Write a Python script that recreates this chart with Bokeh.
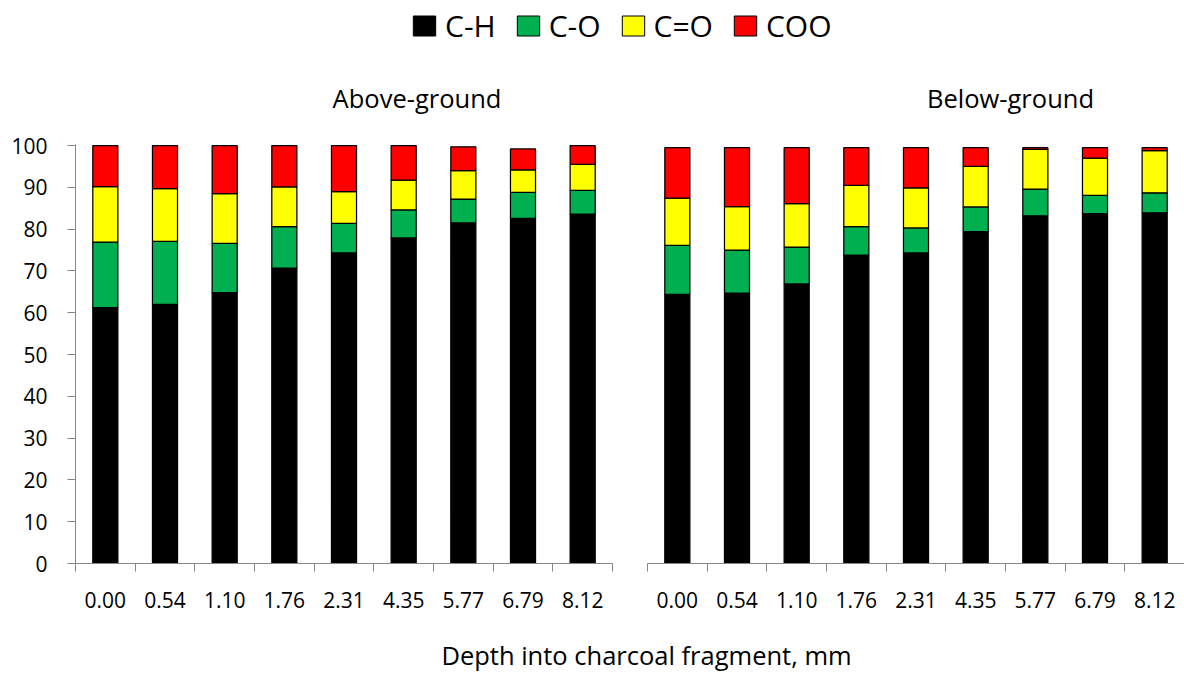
from bokeh.plotting import figure
from bokeh.models import (ColumnDataSource, Range1d, FixedTicker, Legend,
                          LegendItem)
from bokeh.layouts import column, row
from bokeh.embed import file_html
from bokeh.resources import INLINE
from bokeh.core.properties import value

# ---------------- data ----------------
depths = ["0.00", "0.54", "1.10", "1.76", "2.31", "4.35", "5.77", "6.79", "8.12"]
components = ["C-H", "C-O", "C=O", "COO"]
colors = ["#000000", "#00B050", "#FFFF00", "#FF0000"]

above_ch = [61.2, 62.0, 64.8, 70.7, 74.3, 77.9, 81.5, 82.6, 83.6]
above_co = [15.7, 15.1, 11.8, 9.9, 7.1, 6.7, 5.7, 6.2, 5.7]
above_cdo = [13.3, 12.6, 11.9, 9.5, 7.6, 7.1, 6.8, 5.4, 6.2]
above_coo = [9.8, 10.3, 11.5, 9.9, 11.0, 8.3, 5.7, 5.0, 4.5]

below_ch = [64.4, 64.7, 66.9, 73.8, 74.3, 79.4, 83.2, 83.7, 83.9]
below_co = [11.7, 10.3, 8.8, 6.8, 6.0, 5.9, 6.4, 4.4, 4.8]
below_cdo = [11.3, 10.4, 10.4, 9.9, 9.6, 9.7, 9.5, 8.9, 10.1]
below_coo = [12.1, 14.1, 13.4, 9.0, 9.6, 4.5, 0.4, 2.5, 0.7]

panel_titles = ["Above-ground", "Below-ground"]
y_ticks = list(range(0, 101, 10))
x_label = "Depth into charcoal fragment, mm"

FONT = "Open Sans"
GRAY = "#868686"


def panel(ch, co, cdo, coo, show_y, frame_w, b_left, b_right):
    n = len(depths)
    slot = list(range(n))  # category slot index of each depth
    src = ColumnDataSource(dict(slot=slot, ch=ch, co=co, cdo=cdo, coo=coo))
    p = figure(x_range=Range1d(-0.5, n - 0.5), y_range=Range1d(0, 100.25),
               frame_width=frame_w, frame_height=419,
               min_border_left=b_left, min_border_right=b_right,
               min_border_top=24, min_border_bottom=57,
               y_axis_location="left" if show_y else None,
               output_backend="svg", toolbar_location=None)
    p.outline_line_color = None
    p.grid.visible = False
    p.background_fill_color = "white"
    p.border_fill_color = "white"

    p.vbar_stack(["ch", "co", "cdo", "coo"], x="slot", width=0.42,
                 fill_color=colors, line_color="black", line_width=1.25,
                 source=src)

    # x axis: labels at category centres, tick marks between categories
    xa = p.xaxis[0]
    xa.ticker = FixedTicker(ticks=slot,
                            minor_ticks=[i - 0.5 for i in range(n + 1)])
    xa.major_label_overrides = {i: d for i, d in zip(slot, depths)}
    xa.axis_line_color = GRAY
    xa.major_tick_line_color = None
    xa.major_tick_out = 0
    xa.major_tick_in = 0
    xa.minor_tick_line_color = GRAY
    xa.minor_tick_out = 8
    xa.minor_tick_in = 0
    xa.major_label_text_font = FONT
    xa.major_label_text_font_size = "21px"
    xa.major_label_text_color = "black"
    xa.major_label_standoff = 20

    if show_y:
        ya = p.yaxis[0]
        ya.ticker = FixedTicker(ticks=y_ticks)
        ya.axis_line_color = GRAY
        ya.major_tick_line_color = GRAY
        ya.major_tick_out = 8
        ya.major_tick_in = 0
        ya.minor_tick_line_color = None
        ya.major_label_text_font = FONT
        ya.major_label_text_font_size = "21px"
        ya.major_label_text_color = "black"
        ya.major_label_standoff = 20
    return p


left = panel(above_ch, above_co, above_cdo, above_coo, True, 537, 75, 17)
right = panel(below_ch, below_co, below_cdo, below_coo, False, 537, 18, 0)

# ---------------- header strip: legend + panel titles ----------------
HEAD_H = 120
hf = figure(width=1184, height=HEAD_H, x_range=Range1d(0, 1184),
            y_range=Range1d(0, HEAD_H), min_border=0,
            x_axis_location=None, y_axis_location=None,
            output_backend="svg", toolbar_location=None)
hf.outline_line_color = None
hf.grid.visible = False
items = []
for name, c in zip(components, colors):
    # placeholder bar outside the visible range: only its legend swatch shows
    r = hf.vbar(x=[-100], top=[0], width=1, fill_color=c, line_color="black")
    items.append(LegendItem(label=name, renderers=[r]))
legend = Legend(items=items, orientation="horizontal", location=(410, 74),
                glyph_width=28, glyph_height=25, label_standoff=7, spacing=18,
                padding=0, margin=0, border_line_color=None,
                background_fill_alpha=0, label_text_font=FONT,
                label_text_font_size="30px", label_text_color="black")
hf.add_layout(legend, "center")
hf.text(x=[416.5, 1010], y=[23, 23], text=panel_titles, text_align="center",
        text_baseline="middle", text_font=value(FONT),
        text_font_size="25.5px", text_color="black")

# ---------------- shared x label ----------------
xf = figure(width=1184, height=53, x_range=Range1d(0, 1184), y_range=Range1d(0, 53),
            min_border=0, x_axis_location=None, y_axis_location=None,
            output_backend="svg", toolbar_location=None)
xf.outline_line_color = None
xf.grid.visible = False
xf.text(x=[646], y=[19], text=[x_label], text_align="center",
        text_baseline="middle", text_font=value(FONT),
        text_font_size="25.5px", text_color="black")

layout = column(hf, row(left, right), xf)
open("out.html", "w").write(file_html(layout, INLINE))
